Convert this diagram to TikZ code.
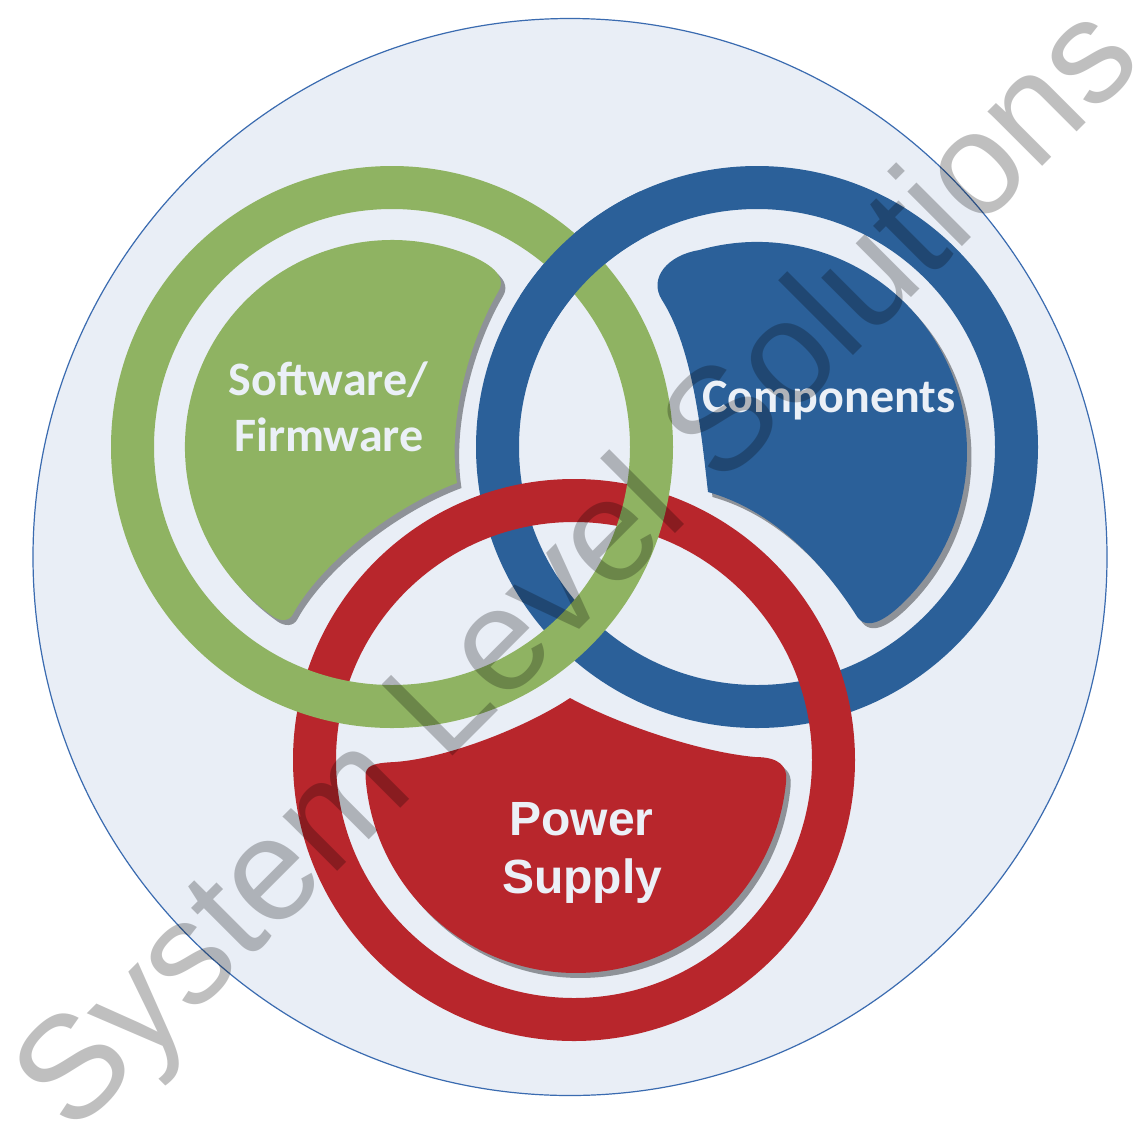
\documentclass[tikz,border=0pt]{standalone}
\usepackage{fontspec}
\newfontfamily\carlito{Carlito}
\newfontfamily\lsans{Liberation Sans}
\definecolor{bgfill}{HTML}{E9EEF6}
\definecolor{bgline}{HTML}{3A6BB0}
\definecolor{greenc}{HTML}{8FB362}
\definecolor{bluec}{HTML}{2B6099}
\definecolor{redc}{HTML}{B8262C}
\definecolor{shadowc}{HTML}{8E9298}
\definecolor{textc}{HTML}{EBF0F7}
\tikzset{
  ring/.style={line width=43pt},
  petalshadow/.style={fill=shadowc, shift={(4.5,5)}},
  lbl/.style={text=textc, inner sep=0pt, anchor=base},
  calfont/.style={font=\carlito\bfseries\fontsize{48}{56}\selectfont},
  arfont/.style={font=\lsans\bfseries\fontsize{48}{56}\selectfont},
}
\def\greenpetal{(469.5,255.1) arc[start angle=-68, end angle=-235, radius=207]
  .. controls (279.9,621.2) and (289,622) .. (293,614)
  .. controls (320,565) and (390,508) .. (457,483)
  .. controls (447,420) and (470,340) .. (498,292)
  .. controls (509,275) and (486,262) .. (469.5,255.1) -- cycle}
\def\bluepetal{(699.1,250.1) arc[start angle=-106, end angle=45, radius=210]
  .. controls (891,615) and (870,632) .. (858,618)
  .. controls (840,590) and (790,515) .. (708,492)
  .. controls (702,440) and (694,350) .. (662,300)
  .. controls (648,278) and (668,255) .. (699.1,250.1) -- cycle}
\def\redpetal{(365.5,776.7) arc[start angle=176, end angle=5, radius=211]
  .. controls (787.5,767) and (780,757) .. (755,757)
  .. controls (700,752) and (620,725) .. (570,698)
  .. controls (530,725) and (450,758) .. (395,762)
  .. controls (372,763) and (365,766) .. (365.5,776.7) -- cycle}
\begin{document}
\begin{tikzpicture}[x=1pt,y=-1pt]
\useasboundingbox (0,0) rectangle (1144,1120);
\fill[white] (0,0) rectangle (1144,1120);
% background disc
\draw[bgline, line width=1.2pt, fill=bgfill] (570,557) ellipse[x radius=537, y radius=538.5];
% petal shadows
\fill[petalshadow] \greenpetal;
\fill[petalshadow] \bluepetal;
\fill[petalshadow] \redpetal;
% petals
\fill[greenc] \greenpetal;
\fill[bluec] \bluepetal;
\fill[redc] \redpetal;
% rings (interlocked)
\draw[ring, bluec] (757,447) circle[radius=259.5];
\draw[ring, redc] (574,760) circle[radius=259.5];
\draw[ring, greenc] (392,447) circle[radius=259.5];
\begin{scope}
  \clip (520,190) rectangle (640,330);
  \draw[ring, bluec] (757,447) circle[radius=259.5];
\end{scope}
% labels
\node[lbl, calfont] (sw1) at (328.5,395.7) {Software/};
\node[lbl, calfont] (sw2) at (329,451.7) {Firmware};
\node[lbl, calfont] (comp) at (829,412.7) {Components};
\node[lbl, arfont] (pw1) at (581.5,835.7) {Power};
\node[lbl, arfont] (pw2) at (582,893.3) {Supply};
% watermark
\node[anchor=base west, rotate=45, inner sep=0pt, text=black, text opacity=0.25,
      font=\lsans\fontsize{146}{150}\selectfont] (wm) at (72,1137) {System Level Solutions};
\end{tikzpicture}
\end{document}
